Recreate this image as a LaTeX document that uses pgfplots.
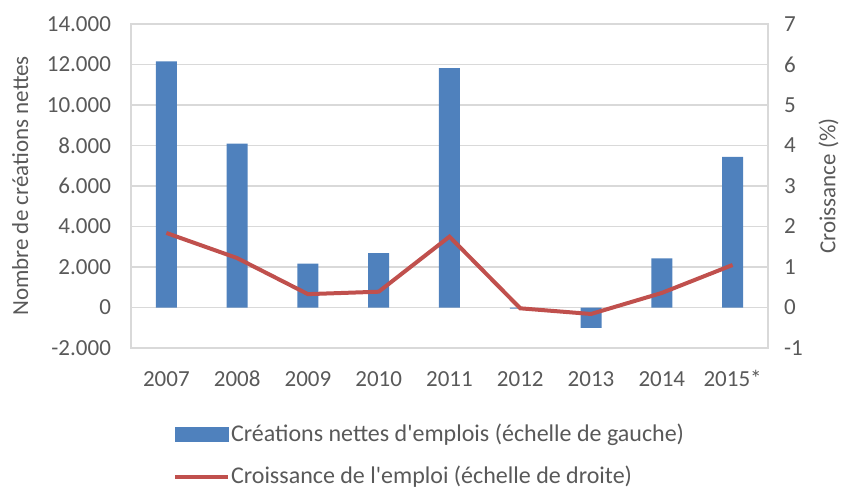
\documentclass[border=0pt]{standalone}
\usepackage{pgfplots}
\pgfplotsset{compat=1.18}
\usepackage{fontspec}
\setmainfont{Carlito}
\definecolor{barblue}{HTML}{4F81BD}
\definecolor{linered}{HTML}{C0504D}
\definecolor{txtgray}{HTML}{595959}
\definecolor{gridgray}{HTML}{D9D9D9}
\begin{document}
\fontsize{11.5}{13}\selectfont
\begin{tikzpicture}
\path[use as bounding box] (-65.5pt,-70pt) rectangle (356pt,174pt);
\begin{axis}[
  scale only axis, width=318.5pt, height=162pt,
  xmin=-0.5, xmax=8.5, ymin=-2000, ymax=14000,
  ytick={-2000,0,2000,4000,6000,8000,10000,12000,14000},
  xtick={0,1,2,3,4,5,6,7,8},
  xticklabels={2007,2008,2009,2010,2011,2012,2013,2014,2015*},
  major tick length=0pt,
  ymajorgrids, grid style={gridgray, line width=0.6pt},
  axis line style={gridgray, line width=0.6pt},
  tick label style={font=\fontsize{11.5}{13}\selectfont, text=txtgray},
  /pgf/number format/assume math mode=true,
  /pgf/number format/.cd, 1000 sep={.}, /pgfplots/.cd,
  scaled y ticks=false,
  yticklabel style={xshift=-6pt},
  xticklabel style={yshift=-7pt, text height=8pt, text depth=2pt},
  ylabel={Nombre de créations nettes},
  ylabel style={font=\fontsize{11.5}{13}\selectfont, text=txtgray, at={(axis description cs:-0.174,0.5)}, anchor=center},
]
\addplot[ybar, bar width=10.5pt, fill=barblue, draw=none] coordinates {
 (0,12150) (1,8090) (2,2170) (3,2690) (4,11820) (5,-60) (6,-1000) (7,2420) (8,7440)};
\end{axis}
\begin{axis}[
  scale only axis, width=318.5pt, height=162pt,
  xmin=-0.5, xmax=8.5, ymin=-1, ymax=7,
  ytick={-1,0,1,2,3,4,5,6,7},
  axis y line*=right, axis x line=none,
  axis line style={draw=none},
  major tick length=0pt,
  tick label style={font=\fontsize{11.5}{13}\selectfont, text=txtgray},
  /pgf/number format/assume math mode=true,
  yticklabel style={xshift=4pt},
  ylabel={Croissance (\%)},
  ylabel style={font=\fontsize{11.5}{13}\selectfont, text=txtgray},
  legend cell align=left,
  legend style={draw=none, fill=none, at={(axis description cs:0.056,-0.215)}, anchor=north west,
    font=\fontsize{12}{13.5}\selectfont, text=txtgray, row sep=8.5pt,
    nodes={inner xsep=0.5pt, inner ysep=1pt}},
]
\addlegendimage{legend image code/.code={\fill[barblue] (0pt,-3.5pt) rectangle (26.5pt,3.5pt);}}
\addlegendentry{Créations nettes d\textquotesingle emplois (échelle de gauche)}
\addplot[linered, line width=2pt, mark=none, legend image code/.code={\draw[linered, line width=2pt] (0pt,0pt) -- (26.5pt,0pt);}] coordinates {
 (0,1.84) (1,1.22) (2,0.33) (3,0.39) (4,1.75) (5,-0.02) (6,-0.16) (7,0.36) (8,1.05)};
\addlegendentry{Croissance de l\textquotesingle emploi (échelle de droite)}
\end{axis}
\end{tikzpicture}
\end{document}
